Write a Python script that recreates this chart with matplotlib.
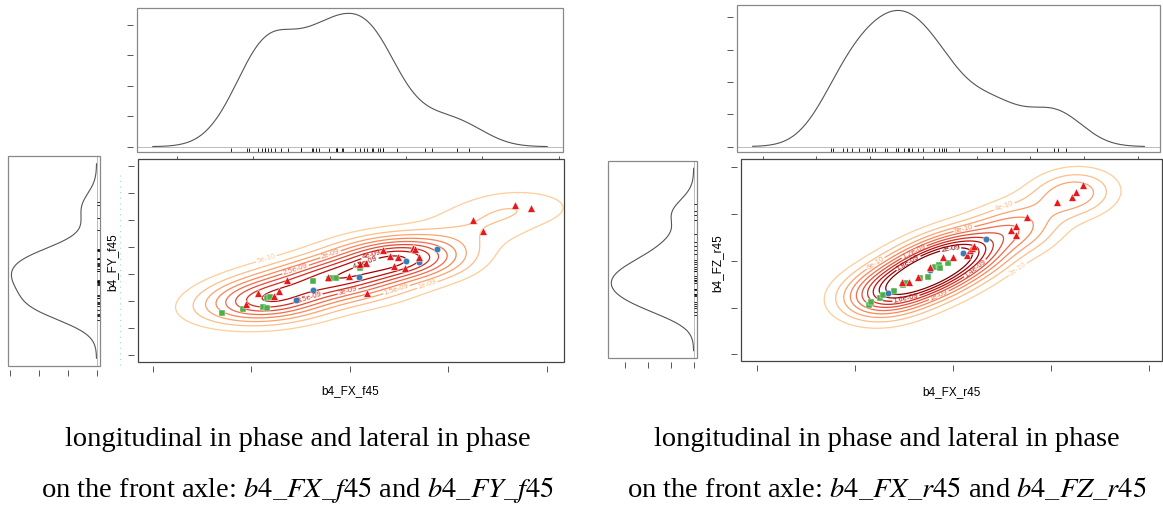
import numpy as np
import matplotlib
matplotlib.use('Agg')
import matplotlib.pyplot as plt
from matplotlib.lines import Line2D
from matplotlib.patches import Rectangle
from matplotlib.ticker import MaxNLocator

# front axle, b4_FX_f45 vs b4_FY_f45
f45_red_x = [-10530, -9320, -7700, -7190, -6380, -2230, -100, 1010, 1620, 1720, 3340, 4050,
             4860, 4460, 5570, 6380, 6580, 6990, 12460, 13470, 16710, 18330]
f45_red_y = [-5590, -3540, -4100, -3170, -1120, -560, -370, 1860, 2050, -3540, 4470, 3350,
             3170, 1490, 1120, 4840, 4650, 3170, 10050, 8000, 12840, 12290]
f45_blue_x = [-5470, -3750, 910, 5670, 6990, 8810]
f45_blue_y = [-4840, -2980, -560, 2420, 2230, 4650]
f45_green_x = [-12960, -10840, -8810, -8410, -8410, -8100, -3750, -2130, -1820, -1420, 1010]
f45_green_y = [-7260, -6520, -6140, -6330, -4470, -4280, -1300, -930, -750, -750, 1120]

# rear axle, b4_FX_r45 vs b4_FZ_r45
r45_red_x = [-10440, -9000, -7160, -4710, -2050, 0, 2870, 3480, 3890, 4290, 11870, 12890,
             12890, 15150, 21280, 24350, 25160, 26600]
r45_red_y = [-4940, -4940, -3770, -1420, 940, 940, 1420, 2590, 3070, 3530, 7300, 8240,
             6120, 10350, 13890, 15060, 16240, 17890]
r45_blue_x = [-13290, -4710, 2050, 6750]
r45_blue_y = [-7540, -2120, 1880, 5180]
r45_green_x = [-17190, -16770, -14930, -14320, -12070, -10230, -9610, -6750, -5120, -3680,
               -2870, -2670, -1030]
r45_green_y = [-10350, -9650, -8700, -8000, -7050, -5650, -5180, -4000, -3770, -1420,
               -940, -1650, -470]

# contour levels as printed on the lines
f45_levels = [5e-10, 1e-09, 1.5e-09, 2e-09, 2.5e-09, 3e-09, 3.5e-09, 4e-09, 4.5e-09, 5e-09]
r45_levels = [2e-10, 4e-10, 6e-10, 8e-10, 1e-09, 1.2e-09, 1.4e-09, 1.6e-09, 1.8e-09, 2e-09]

captions = [
    ('longitudinal in phase and lateral in phase',
     r'on the front axle: $b4\_FX\_f45$ and $b4\_FY\_f45$'),
    ('longitudinal in phase and lateral in phase',
     r'on the front axle: $b4\_FX\_r45$ and $b4\_FZ\_r45$'),
]

W, H = 1163, 505
RED, BLUE, GREEN = '#E41A1C', '#377EB8', '#4DAF4A'

plt.rcParams['font.family'] = ['Liberation Sans', 'DejaVu Sans']
plt.rcParams['mathtext.fontset'] = 'stix'


def box(x0, y0, x1, y1):
    return [x0 / W, 1 - y1 / H, (x1 - x0) / W, (y1 - y0) / H]


def spread(v):
    v = np.asarray(v, float)
    q75, q25 = np.percentile(v, [75, 25])
    return min(v.std(ddof=1), (q75 - q25) / 1.34)


def density(v, n=512):
    # like R density(): bw.nrd0, gaussian, cut = 3
    v = np.asarray(v, float)
    bw = 0.9 * spread(v) * len(v) ** -0.2
    g = np.linspace(v.min() - 3 * bw, v.max() + 3 * bw, n)
    d = np.exp(-0.5 * ((g[:, None] - v[None, :]) / bw) ** 2).sum(1)
    return g, d / (len(v) * bw * np.sqrt(2 * np.pi))


def kde2d(x, y, gx, gy):
    # like MASS::kde2d with bandwidth.nrd
    x = np.asarray(x, float)
    y = np.asarray(y, float)
    n = len(x)
    hx = 1.06 * spread(x) * n ** -0.2
    hy = 1.06 * spread(y) * n ** -0.2
    ax_ = np.exp(-0.5 * ((gx[:, None] - x[None, :]) / hx) ** 2) / (hx * np.sqrt(2 * np.pi))
    ay_ = np.exp(-0.5 * ((gy[:, None] - y[None, :]) / hy) ** 2) / (hy * np.sqrt(2 * np.pi))
    return ay_ @ ax_.T / n


def r_style(ax, color, sides):
    for s in ax.spines:
        ax.spines[s].set_visible(False)
        ax.spines[s].set_position(('outward', 3))
    ax.add_patch(Rectangle((0, 0), 1, 1, transform=ax.transAxes, fill=False,
                           edgecolor=color, lw=0.9, clip_on=False, zorder=5))
    ax.tick_params(which='both', direction='out', length=4, width=0.7, color='#555555',
                   labelleft=False, labelbottom=False, labelright=False, labeltop=False,
                   left='left' in sides, bottom='bottom' in sides,
                   right='right' in sides, top=False)


def panel(top_box, side_box, main_box, xlim, ylim, xticks, yticks, pts, levels,
          xlabel, ylabel, xlab_pos, ylab_pos, cap, cap_x):
    (rx, ry), (bx, by), (gx_, gy_) = pts
    allx = rx + bx + gx_
    ally = ry + by + gy_

    # top marginal density of x
    ax = fig.add_axes(box(*top_box))
    g, d = density(allx)
    ax.plot(g, d, color='#555555', lw=0.8)
    ax.axhline(0, color='#bbbbbb', lw=0.7)
    ax.vlines(allx, 0, 0.03, transform=ax.get_xaxis_transform(), color='black', lw=0.6)
    span = g.max() - g.min()
    ax.set_xlim(g.min() - 0.04 * span, g.max() + 0.04 * span)
    ax.set_ylim(-0.04 * d.max(), 1.04 * d.max())
    ax.yaxis.set_major_locator(MaxNLocator(5))
    r_style(ax, '#888888', ['left', 'bottom'])

    # left marginal density of y, pointing left
    ax = fig.add_axes(box(*side_box))
    g, d = density(ally)
    ax.plot(d, g, color='#555555', lw=0.8)
    ax.axvline(0, color='#bbbbbb', lw=0.7)
    ax.hlines(ally, 0.97, 1.0, transform=ax.get_yaxis_transform(), color='black', lw=0.6)
    span = g.max() - g.min()
    ax.set_ylim(g.min() - 0.04 * span, g.max() + 0.04 * span)
    ax.set_xlim(1.04 * d.max(), -0.04 * d.max())
    ax.xaxis.set_major_locator(MaxNLocator(4))
    r_style(ax, '#888888', ['bottom'])

    # joint density contours with the points
    ax = fig.add_axes(box(*main_box))
    gx = np.linspace(xlim[0], xlim[1], 220)
    gy = np.linspace(ylim[0], ylim[1], 220)
    z = kde2d(allx, ally, gx, gy)
    cols = plt.cm.OrRd(np.linspace(0.28, 1.0, len(levels)))
    cs = ax.contour(gx, gy, z, levels=levels, colors=cols, linewidths=0.9)
    ax.clabel(cs, fmt='%g', fontsize=5.5, inline=True, inline_spacing=1)
    ax.scatter(gx_, gy_, marker='s', s=24, color=GREEN, edgecolor='white', lw=0.3, zorder=3)
    ax.scatter(bx, by, marker='o', s=22, color=BLUE, edgecolor='white', lw=0.3, zorder=3)
    ax.scatter(rx, ry, marker='^', s=30, color=RED, edgecolor='white', lw=0.3, zorder=3)
    ax.set_xlim(xlim)
    ax.set_ylim(ylim)
    ax.set_xticks(xticks)
    ax.set_yticks(yticks)
    r_style(ax, '#444444', ['left', 'bottom'])

    fig.text(xlab_pos[0] / W, 1 - xlab_pos[1] / H, xlabel, fontsize=8.5,
             ha='center', va='center')
    fig.text(ylab_pos[0] / W, 1 - ylab_pos[1] / H, ylabel, fontsize=8.5,
             ha='center', va='center', rotation=90)

    for line, yy in zip(cap, [440, 490]):
        fig.text(cap_x / W, 1 - yy / H, line, fontsize=20.5, ha='center', va='center',
                 family='Liberation Serif')


fig = plt.figure(figsize=(W / 100, H / 100), dpi=100)

panel((137, 8, 563, 152), (8, 156, 100, 366), (138, 159, 564, 362),
      (-21520, 21730), (-16360, 21380),
      [-20000, -10000, 0, 10000, 20000], list(range(-15000, 20001, 5000)),
      ((f45_red_x, f45_red_y), (f45_blue_x, f45_blue_y), (f45_green_x, f45_green_y)),
      f45_levels, 'b4_FX_f45', 'b4_FY_f45', (350, 391), (112, 262), captions[0], 298)

panel((737, 5, 1160, 152), (608, 161, 697, 358), (741, 159, 1162, 361),
      (-43370, 42760), (-23530, 23990),
      [-40000, -20000, 0, 20000, 40000], [-22000, -11000, 0, 11000, 22000],
      ((r45_red_x, r45_red_y), (r45_blue_x, r45_blue_y), (r45_green_x, r45_green_y)),
      r45_levels, 'b4_FX_r45', 'b4_FZ_r45', (951, 392), (717, 263), captions[1], 887)

# faint dotted guide left of the first scatter panel
fig.add_artist(Line2D([120 / W, 120 / W], [1 - 175 / H, 1 - 365 / H], color='#9fd3ea',
                      lw=0.8, ls=(0, (1, 4))))

fig.savefig('out.png', dpi=100)
